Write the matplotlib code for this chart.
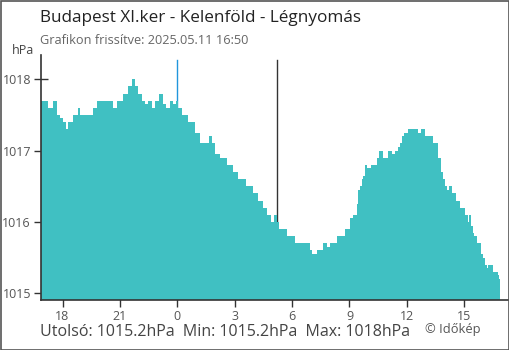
import matplotlib
matplotlib.use("Agg")
import matplotlib.pyplot as plt
from matplotlib.patches import Rectangle

# ---- data (hours relative to midnight, hPa) ----
HOURS = [
    -7.14, -6.78, -6.48, -6.30, -6.13, -5.96, -5.83, -5.70, -5.44, -5.21,
    -5.09, -4.77, -4.42, -4.21, -3.78, -3.35, -3.17, -2.82, -2.56, -2.35,
    -2.21, -2.04, -1.86, -1.69, -1.52, -1.34, -1.17, -0.94, -0.73, -0.59,
    -0.38, -0.21, -0.08, 0.05, 0.23, 0.58, 0.93, 1.19, 1.45, 1.66,
    1.80, 1.97, 2.23, 2.58, 2.93, 3.19, 3.59, 3.97, 4.23, 4.46,
    4.67, 4.91, 5.07, 5.20, 5.33, 5.54, 5.72, 6.15, 6.85, 6.94,
    7.06, 7.32, 7.63, 7.81, 7.98, 8.33, 8.77, 9.03, 9.20, 9.38,
    9.46, 9.55, 9.64, 9.72, 9.81, 9.90, 10.11, 10.42, 10.56, 10.74,
    11.01, 11.21, 11.38, 11.55, 11.64, 11.73, 11.85, 12.08, 12.43, 12.60,
    12.72, 12.95, 13.17, 13.38, 13.63, 13.78, 13.90, 13.99, 14.08, 14.22,
    14.34, 14.57, 14.78, 15.04, 15.18, 15.27, 15.34, 15.44, 15.51, 15.65,
    15.86, 15.96, 16.08, 16.17, 16.26, 16.52, 16.78, 16.83, 16.87,
]
PRESSURE = [
    1017.7, 1017.6, 1017.7, 1017.5, 1017.45, 1017.4, 1017.3, 1017.4, 1017.5, 1017.6,
    1017.5, 1017.5, 1017.6, 1017.7, 1017.7, 1017.6, 1017.7, 1017.8, 1017.9, 1018.0,
    1017.9, 1017.8, 1017.7, 1017.65, 1017.7, 1017.6, 1017.7, 1017.8, 1017.65, 1017.6,
    1017.7, 1017.65, 1017.7, 1017.6, 1017.5, 1017.4, 1017.25, 1017.1, 1017.1, 1017.2,
    1017.1, 1016.95, 1016.9, 1016.8, 1016.7, 1016.6, 1016.5, 1016.4, 1016.3, 1016.2,
    1016.1, 1016.0, 1016.1, 1016.0, 1015.9, 1015.9, 1015.8, 1015.7, 1015.7, 1015.6,
    1015.55, 1015.6, 1015.7, 1015.65, 1015.7, 1015.8, 1015.9, 1016.05, 1016.1, 1016.25,
    1016.45, 1016.5, 1016.6, 1016.65, 1016.8, 1016.75, 1016.8, 1016.9, 1017.0, 1016.9,
    1017.0, 1016.95, 1017.0, 1017.05, 1017.1, 1017.2, 1017.25, 1017.3, 1017.3, 1017.25,
    1017.3, 1017.2, 1017.2, 1017.1, 1016.9, 1016.7, 1016.6, 1016.5, 1016.45, 1016.5,
    1016.4, 1016.3, 1016.2, 1016.1, 1016.0, 1016.1, 1015.95, 1015.85, 1015.8, 1015.7,
    1015.55, 1015.5, 1015.4, 1015.35, 1015.4, 1015.3, 1015.25, 1015.2, 1015.2,
]
X_TICKS = [-6, -3, 0, 3, 6, 9, 12, 15]
X_LABELS = ["18", "21", "0", "3", "6", "9", "12", "15"]
Y_TICKS = [1015, 1016, 1017, 1018]
SUNRISE = 5.2

TITLE = "Budapest XI.ker - Kelenföld - Légnyomás"
SUBTITLE = "Grafikon frissítve: 2025.05.11 16:50"
FOOTER = "Utolsó: 1015.2hPa  Min: 1015.2hPa  Max: 1018hPa"

FILL = "#40c0c2"
MIDNIGHT = "#2196dc"
plt.rcParams["font.family"] = ["Open Sans", "DejaVu Sans"]

W, H = 510, 350
fig = plt.figure(figsize=(W / 100, H / 100), dpi=100)
left, right, top, bottom = 40.7, 509, 55, 300
ax = fig.add_axes([left / W, 1 - bottom / H, (right - left) / W, (bottom - top) / H])

y_low, y_high = 1014.906, 1018.34
ax.fill_between(HOURS, PRESSURE, y_low, step="post", color=FILL, linewidth=0, zorder=1)
ax.set_xlim(-7.14, 17.34)
ax.set_ylim(y_low, y_high)

# day markers sit behind the fill
ax.plot([SUNRISE, SUNRISE], [y_low, 1018.27], color="#333333", lw=1, zorder=0.8)
ax.plot([0, 0], [y_low, 1018.27], color=MIDNIGHT, lw=1, zorder=0.8)

ax.set_xticks(X_TICKS)
ax.set_xticklabels(X_LABELS)
ax.set_yticks(Y_TICKS)
ax.set_axisbelow(True)
ax.tick_params(axis="both", direction="inout", length=10, width=1, color="#333333",
               labelcolor="#555555", labelsize=9, pad=2)
ax.xaxis.get_major_ticks()[2].tick1line.set_color(MIDNIGHT)
for side in ("top", "right"):
    ax.spines[side].set_visible(False)
for side in ("left", "bottom"):
    ax.spines[side].set_color("#333333")
    ax.spines[side].set_linewidth(1.2)

fig.text(40 / W, 1 - 18 / H, TITLE, fontsize=12.3, color="#222222", va="center", ha="left")
fig.text(40 / W, 1 - 41 / H, SUBTITLE, fontsize=9.2, color="#666666", va="center", ha="left")
fig.text(12 / W, 1 - 50 / H, "hPa", fontsize=9, color="#444444", va="center", ha="left")
fig.text(40 / W, 1 - 332 / H, FOOTER, fontsize=11.5, color="#444444", va="center", ha="left")
fig.text(425 / W, 1 - 330 / H, "© Időkép", fontsize=9.3, color="#555555", va="center", ha="left")

fig.patches.append(Rectangle((0.5 / W, 0.5 / H), 1 - 1 / W, 1 - 1 / H, transform=fig.transFigure,
                             fill=False, edgecolor="#555555", linewidth=1.2))

fig.savefig("out.png", dpi=100)
